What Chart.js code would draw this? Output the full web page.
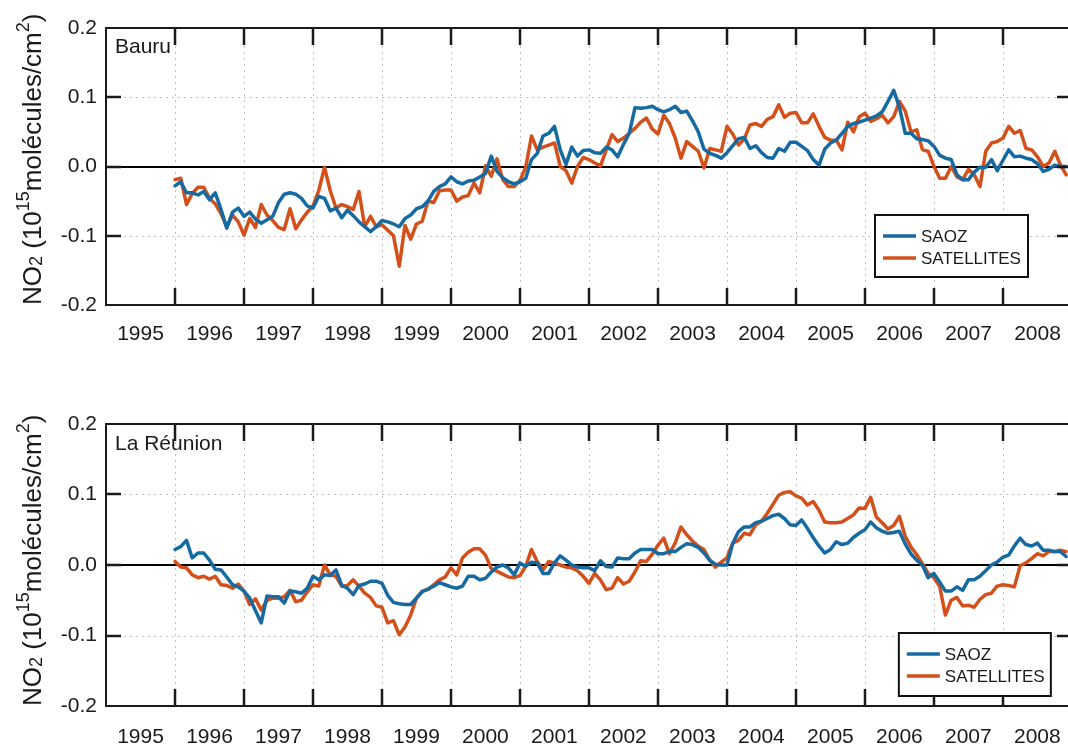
<!DOCTYPE html>
<html>
<head>
<meta charset="utf-8">
<title>NO2 SAOZ / satellites</title>
<script src="https://cdn.jsdelivr.net/npm/chart.js@4.4.1/dist/chart.umd.min.js"></script>
<style>
  html, body { margin: 0; padding: 0; background: #fff; overflow: hidden; }
  #wrap { position: relative; width: 1068px; height: 749px; overflow: hidden; }
  canvas { position: absolute; left: 0; }
  #bauru { top: 0; }
  #reunion { top: 396px; }
</style>
</head>
<body>
<div id="wrap">
  <canvas id="bauru" width="1080" height="350"></canvas>
  <canvas id="reunion" width="1080" height="353"></canvas>
</div>
<script>
// Monthly NO2 anomalies (10^15 molecules/cm2), January 1996 .. December 2008
const startYear = 1996;
const yearTicks = [1995, 1996, 1997, 1998, 1999, 2000, 2001, 2002, 2003, 2004, 2005, 2006, 2007, 2008];
const yTicks = [-0.2, -0.1, 0, 0.1, 0.2];
const seriesNames = ['SAOZ', 'SATELLITES'];

const bauruSaoz = [
  -0.028, -0.022, -0.038, -0.038, -0.041, -0.036, -0.048, -0.038, -0.062, -0.089, -0.066, -0.060,
  -0.072, -0.066, -0.076, -0.082, -0.077, -0.072, -0.052, -0.040, -0.038, -0.040, -0.046, -0.057,
  -0.060, -0.043, -0.046, -0.064, -0.060, -0.074, -0.063, -0.071, -0.080, -0.087, -0.094, -0.087,
  -0.078, -0.080, -0.083, -0.087, -0.075, -0.070, -0.061, -0.058, -0.050, -0.036, -0.029, -0.025,
  -0.015, -0.022, -0.025, -0.021, -0.020, -0.015, -0.010, 0.015, -0.007, -0.016, -0.022, -0.025,
  -0.022, -0.017, 0.010, 0.019, 0.044, 0.048, 0.058, 0.024, 0.003, 0.028, 0.015, 0.023,
  0.024, 0.020, 0.019, 0.028, 0.024, 0.014, 0.032, 0.048, 0.085, 0.084, 0.085, 0.087,
  0.082, 0.079, 0.082, 0.087, 0.078, 0.080, 0.066, 0.050, 0.025, 0.019, 0.016, 0.012,
  0.020, 0.030, 0.040, 0.042, 0.026, 0.030, 0.020, 0.013, 0.012, 0.026, 0.022, 0.035,
  0.035, 0.029, 0.023, 0.010, 0.002, 0.025, 0.034, 0.038, 0.048, 0.058, 0.062, 0.064,
  0.067, 0.070, 0.073, 0.079, 0.094, 0.110, 0.085, 0.048, 0.048, 0.040, 0.039, 0.037,
  0.029, 0.016, 0.012, 0.010, -0.012, -0.019, -0.019, -0.008, -0.001, -0.001, 0.010, -0.006,
  0.009, 0.024, 0.014, 0.015, 0.012, 0.010, 0.004, -0.007, -0.004, 0.002, 0.000, 0.000
];
const bauruSat = [
  -0.019, -0.017, -0.055, -0.039, -0.030, -0.030, -0.046, -0.054, -0.068, -0.087, -0.070, -0.080,
  -0.099, -0.075, -0.088, -0.055, -0.070, -0.078, -0.088, -0.091, -0.061, -0.090, -0.077, -0.066,
  -0.057, -0.035, -0.001, -0.035, -0.060, -0.055, -0.058, -0.062, -0.036, -0.087, -0.072, -0.087,
  -0.084, -0.092, -0.100, -0.144, -0.085, -0.105, -0.083, -0.079, -0.050, -0.052, -0.035, -0.034,
  -0.034, -0.050, -0.044, -0.042, -0.024, -0.038, 0.001, -0.014, 0.011, -0.019, -0.029, -0.029,
  -0.020, -0.001, 0.044, 0.024, 0.028, 0.031, 0.034, 0.000, -0.006, -0.024, 0.000, 0.013,
  0.010, 0.005, 0.001, 0.024, 0.046, 0.036, 0.041, 0.048, 0.055, 0.064, 0.070, 0.054,
  0.047, 0.074, 0.062, 0.041, 0.012, 0.036, 0.029, 0.022, -0.002, 0.026, 0.024, 0.022,
  0.058, 0.047, 0.031, 0.040, 0.060, 0.062, 0.058, 0.068, 0.072, 0.089, 0.071, 0.077,
  0.078, 0.063, 0.063, 0.076, 0.058, 0.042, 0.038, 0.038, 0.024, 0.064, 0.050, 0.072,
  0.077, 0.065, 0.069, 0.074, 0.063, 0.072, 0.094, 0.080, 0.050, 0.053, 0.024, 0.022,
  0.000, -0.017, -0.017, 0.000, -0.015, -0.019, -0.004, -0.012, -0.029, 0.022, 0.034, 0.036,
  0.041, 0.058, 0.048, 0.052, 0.026, 0.024, 0.014, 0.000, 0.005, 0.022, 0.002, -0.012
];
const reunionSaoz = [
  0.022, 0.026, 0.035, 0.010, 0.017, 0.017, 0.007, -0.006, -0.007, -0.017, -0.028, -0.031,
  -0.037, -0.047, -0.065, -0.082, -0.044, -0.045, -0.045, -0.054, -0.037, -0.038, -0.040, -0.033,
  -0.016, -0.021, -0.014, -0.015, -0.007, -0.029, -0.033, -0.042, -0.029, -0.027, -0.023, -0.023,
  -0.026, -0.043, -0.053, -0.055, -0.056, -0.056, -0.047, -0.038, -0.034, -0.030, -0.025, -0.028,
  -0.031, -0.033, -0.030, -0.016, -0.016, -0.021, -0.019, -0.010, -0.003, 0.000, -0.004, -0.014,
  0.003, -0.002, 0.004, 0.003, -0.012, -0.012, 0.003, 0.013, 0.007, 0.000, -0.003, -0.004,
  -0.004, -0.008, 0.006, -0.002, -0.003, 0.010, 0.009, 0.009, 0.017, 0.022, 0.022, 0.022,
  0.016, 0.016, 0.019, 0.019, 0.025, 0.030, 0.029, 0.025, 0.017, 0.007, 0.001, 0.000,
  0.000, 0.030, 0.047, 0.054, 0.054, 0.060, 0.062, 0.066, 0.070, 0.072, 0.066, 0.057,
  0.056, 0.064, 0.052, 0.039, 0.027, 0.017, 0.022, 0.033, 0.029, 0.031, 0.039, 0.045,
  0.050, 0.061, 0.053, 0.048, 0.045, 0.046, 0.048, 0.030, 0.016, 0.007, 0.000, -0.018,
  -0.012, -0.024, -0.037, -0.037, -0.031, -0.036, -0.021, -0.021, -0.016, -0.008, 0.000, 0.004,
  0.011, 0.014, 0.027, 0.038, 0.029, 0.027, 0.031, 0.021, 0.021, 0.019, 0.019, 0.012
];
const reunionSat = [
  0.005, -0.003, -0.004, -0.014, -0.018, -0.016, -0.020, -0.016, -0.028, -0.029, -0.033, -0.027,
  -0.037, -0.056, -0.048, -0.064, -0.050, -0.047, -0.047, -0.045, -0.036, -0.052, -0.050, -0.038,
  -0.028, -0.030, 0.000, -0.014, -0.016, -0.030, -0.029, -0.021, -0.030, -0.040, -0.046, -0.058,
  -0.060, -0.082, -0.079, -0.099, -0.088, -0.071, -0.047, -0.037, -0.035, -0.028, -0.021, -0.017,
  -0.004, -0.014, 0.010, 0.018, 0.023, 0.023, 0.014, -0.005, -0.009, -0.013, -0.017, -0.018,
  -0.015, -0.002, 0.022, 0.005, -0.007, 0.005, 0.003, 0.000, -0.003, -0.004, -0.008, -0.016,
  -0.026, -0.012, -0.021, -0.035, -0.033, -0.018, -0.027, -0.023, -0.010, 0.006, 0.005, 0.015,
  0.028, 0.038, 0.016, 0.031, 0.054, 0.043, 0.034, 0.027, 0.022, 0.007, -0.003, 0.004,
  0.010, 0.031, 0.035, 0.045, 0.043, 0.057, 0.062, 0.073, 0.086, 0.099, 0.103, 0.104,
  0.098, 0.095, 0.085, 0.090, 0.078, 0.061, 0.060, 0.060, 0.061, 0.066, 0.071, 0.081,
  0.080, 0.096, 0.068, 0.060, 0.051, 0.056, 0.069, 0.041, 0.026, 0.015, 0.002, -0.012,
  -0.018, -0.030, -0.071, -0.050, -0.046, -0.058, -0.057, -0.060, -0.049, -0.042, -0.040, -0.030,
  -0.028, -0.029, -0.031, -0.001, 0.003, 0.009, 0.016, 0.013, 0.019, 0.019, 0.021, 0.019
];

const BLUE = '#166aa2';
const ORANGE = '#d3501b';
const INK = '#1a1a1a';
const FONT = '"Liberation Sans", Arial, Helvetica, sans-serif';

// month index -> decimal year
function toPoints(values) {
  return values.map((v, i) => ({ x: startYear + i / 12, y: v }));
}

// y-axis title with sub/superscripts, written bottom-to-top from (cx, cy)
function drawYTitle(ctx, cx, cy) {
  const big = '26px ' + FONT;
  const small = '18px ' + FONT;
  const parts = [
    ['NO', big, 0], ['2', small, 1], [' (10', big, 0], ['15', small, -12],
    ['molécules/cm', big, 0], ['2', small, -12], [')', big, 0]
  ];
  ctx.save();
  ctx.translate(cx, cy);
  ctx.rotate(-Math.PI / 2);
  ctx.fillStyle = INK;
  ctx.textBaseline = 'alphabetic';
  ctx.textAlign = 'left';
  let pos = 0;
  for (const [txt, f, dy] of parts) {
    ctx.font = f;
    ctx.fillText(txt, pos, dy);
    pos += ctx.measureText(txt).width;
  }
  ctx.restore();
}

// dotted grid, zero line, boxed frame with inward ticks, station name and legend box
const framePlugin = {
  id: 'frame',
  beforeDatasetsDraw(chart) {
    const { ctx, chartArea: a, scales: { x, y } } = chart;
    ctx.save();
    ctx.strokeStyle = '#c2c2c2';
    ctx.lineWidth = 1;
    ctx.setLineDash([2, 4]);
    ctx.beginPath();
    yearTicks.slice(1).forEach(yr => {
      const px = Math.round(x.getPixelForValue(yr)) + 0.5;
      ctx.moveTo(px, a.top);
      ctx.lineTo(px, a.bottom);
    });
    yTicks.forEach(v => {
      if (v === 0 || v <= y.min || v >= y.max) return;
      const py = Math.round(y.getPixelForValue(v)) + 0.5;
      ctx.moveTo(a.left, py);
      ctx.lineTo(a.right, py);
    });
    ctx.stroke();
    ctx.setLineDash([]);
    ctx.strokeStyle = '#000';
    ctx.lineWidth = 2;
    ctx.beginPath();
    const zy = Math.round(y.getPixelForValue(0));
    ctx.moveTo(a.left, zy);
    ctx.lineTo(a.right, zy);
    ctx.stroke();
    ctx.restore();
  },
  afterDraw(chart, args, opts) {
    const { ctx, chartArea: a, scales: { x, y } } = chart;
    ctx.save();
    ctx.strokeStyle = INK;
    ctx.lineWidth = 2;
    ctx.strokeRect(a.left, a.top, a.right - a.left, a.bottom - a.top);
    ctx.lineWidth = 2.5;
    ctx.beginPath();
    yearTicks.slice(1).forEach(yr => {
      const px = Math.round(x.getPixelForValue(yr));
      ctx.moveTo(px, a.top);
      ctx.lineTo(px, a.top + 17);
      ctx.moveTo(px, a.bottom);
      ctx.lineTo(px, a.bottom - 17);
    });
    yTicks.forEach(v => {
      if (v <= y.min || v >= y.max) return;
      const py = Math.round(y.getPixelForValue(v));
      ctx.moveTo(a.left, py);
      ctx.lineTo(a.left + 15, py);
      ctx.moveTo(a.right, py);
      ctx.lineTo(a.right - 15, py);
    });
    ctx.stroke();

    // station name
    ctx.fillStyle = INK;
    ctx.font = '21px ' + FONT;
    ctx.textBaseline = 'middle';
    ctx.textAlign = 'left';
    ctx.fillText(opts.station, a.left + 9, a.top + opts.stationDy);

    // legend
    const L = opts.legend;
    const bx = a.right - L.right - L.w;
    const by = a.bottom - L.bottom - L.h;
    ctx.fillStyle = '#fff';
    ctx.fillRect(bx, by, L.w, L.h);
    ctx.strokeStyle = '#111';
    ctx.lineWidth = 2;
    ctx.strokeRect(bx, by, L.w, L.h);
    ctx.font = '17px ' + FONT;
    chart.data.datasets.forEach((ds, i) => {
      const ly = by + 21 + i * 22;
      ctx.strokeStyle = ds.borderColor;
      ctx.lineWidth = 3.5;
      ctx.beginPath();
      ctx.moveTo(bx + 8, ly);
      ctx.lineTo(bx + 41, ly);
      ctx.stroke();
      ctx.fillStyle = INK;
      ctx.fillText(ds.label, bx + 46, ly + 1);
    });
    ctx.restore();

    drawYTitle(ctx, 41, a.bottom);
  }
};

function makeChart(id, saoz, sat, cfg) {
  return new Chart(document.getElementById(id), {
    type: 'line',
    data: {
      datasets: [
        { label: seriesNames[0], data: toPoints(saoz), borderColor: BLUE },
        { label: seriesNames[1], data: toPoints(sat), borderColor: ORANGE }
      ]
    },
    options: {
      responsive: false,
      animation: false,
      events: [],
      layout: { padding: { top: 28, right: 8, left: 0, bottom: 0 } },
      elements: {
        point: { radius: 0 },
        line: { borderWidth: 3.5, tension: 0, borderJoinStyle: 'round', borderCapStyle: 'round' }
      },
      plugins: {
        legend: { display: false },
        tooltip: { enabled: false },
        frame: cfg
      },
      scales: {
        x: {
          type: 'linear',
          min: 1995,
          max: 2009,
          grid: { display: false, drawTicks: false },
          border: { display: false },
          afterBuildTicks: s => { s.ticks = yearTicks.map(v => ({ value: v + 0.5 })); },
          afterFit: s => { s.height = cfg.xAxisHeight; },
          ticks: {
            autoSkip: false,
            maxRotation: 0,
            padding: cfg.xPad,
            color: INK,
            font: { family: FONT, size: 21 },
            callback: v => String(Math.floor(v))
          }
        },
        y: {
          min: -0.2,
          max: 0.2,
          grid: { display: false, drawTicks: false },
          border: { display: false },
          afterBuildTicks: s => { s.ticks = yTicks.map(v => ({ value: v })); },
          afterFit: s => { s.width = 106; },
          ticks: {
            padding: 9,
            color: INK,
            font: { family: FONT, size: 21 },
            callback: v => v.toFixed(1)
          }
        }
      }
    },
    plugins: [framePlugin]
  });
}

makeChart('bauru', bauruSaoz, bauruSat, {
  station: 'Bauru', stationDy: 19, xAxisHeight: 45, xPad: 17,
  legend: { right: 44, bottom: 28, w: 153, h: 62 }
});
makeChart('reunion', reunionSaoz, reunionSat, {
  station: 'La Réunion', stationDy: 20, xAxisHeight: 43, xPad: 19,
  legend: { right: 21, bottom: 10, w: 152, h: 63 }
});
</script>
</body>
</html>
